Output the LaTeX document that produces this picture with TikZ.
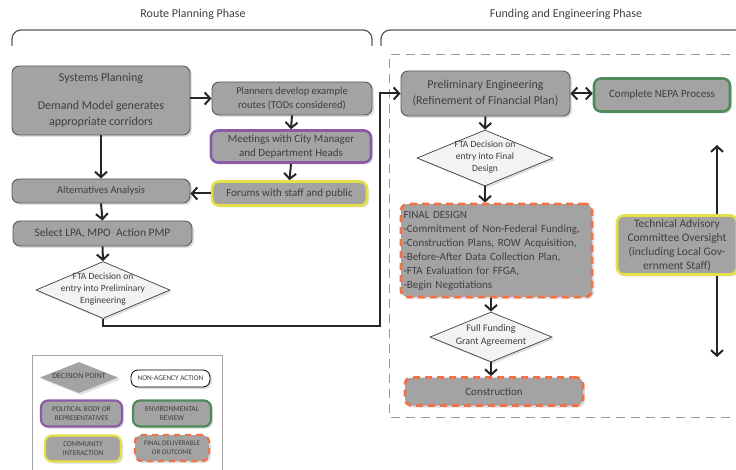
\documentclass[tikz,border=0pt]{standalone}
\usepackage{fontspec}
\setmainfont{Carlito}
\usetikzlibrary{shapes.geometric,arrows.meta,shadows}
\definecolor{boxgray}{HTML}{A3A3A3}
\definecolor{boxedge}{HTML}{5A5A5A}
\definecolor{txt}{HTML}{3F3F3F}
\definecolor{purp}{HTML}{8A5AA8}
\definecolor{grn}{HTML}{4E8A5A}
\definecolor{yel}{HTML}{E4E04A}
\definecolor{orng}{HTML}{EE734C}
\definecolor{dia}{HTML}{F3F3F3}
\newcommand{\dtext}[1]{\makebox[0pt]{\raisebox{-0.25em}{\smash{\begin{tabular}{@{}c@{}}#1\end{tabular}}}}}
\tikzset{
  shad/.style={drop shadow={opacity=0.25,shadow xshift=2pt,shadow yshift=-2pt}},
  gbox/.style={shad,draw=boxedge,line width=0.9pt,fill=boxgray,rounded corners=7pt,
    text=txt,align=center,inner sep=0pt},
  polbox/.style={gbox,draw=purp,line width=2.6pt},
  envbox/.style={gbox,draw=grn,line width=2.6pt},
  combox/.style={gbox,draw=yel,line width=2.6pt},
  finbox/.style={gbox,draw=orng,line width=2.8pt,dash pattern=on 7pt off 5pt},
  decis/.style={shad,diamond,draw=txt,line width=0.7pt,fill=dia,text=txt,inner sep=0pt},
  tip/.tip={Straight Barb[length=5.5pt,width=12pt,line width=2pt]},
  arr/.style={draw=black!85,line width=2pt,-tip},
  darr/.style={draw=black!85,line width=2pt,tip-tip},
  lbl/.style={text=txt,inner sep=0pt},
}
\begin{document}
\begin{tikzpicture}[x=1pt,y=-1pt]
\useasboundingbox (0,0) rectangle (736,470);
\clip (0,0) rectangle (736,470);
% phase labels and brackets
\node[lbl,font=\fontsize{12}{14}\selectfont] (rpp) at (193,14) {Route Planning Phase};
\node[lbl,font=\fontsize{12}{14}\selectfont] (fep) at (566,14) {Funding and Engineering Phase};
\draw[draw=boxedge,line width=1.3pt,rounded corners=9pt] (12,46) -- (12,30) -- (372,30) -- (372,46);
\draw[draw=boxedge,line width=1.3pt,rounded corners=9pt] (381,46) -- (381,30) -- (745,30);
% dashed frame
\draw[draw=gray!80,line width=1pt,dash pattern=on 9pt off 6pt] (745,55) -- (389,55) -- (389,417) -- (745,417);

% left column
\node[gbox,minimum width=178pt,minimum height=69pt,font=\fontsize{12}{16}\selectfont] (sp) at (101,100.5)
  {Systems Planning\\[12pt]Demand Model generates\\appropriate corridors};
\node[gbox,minimum width=160pt,minimum height=33pt,font=\fontsize{10.5}{13.5}\selectfont] (pd) at (292,98.5)
  {Planners develop example\\routes (TODs considered)};
\node[polbox,minimum width=160pt,minimum height=32pt,font=\fontsize{11}{14}\selectfont] (mt) at (291,146.5)
  {Meetings with City Manager\\and Department Heads};
\node[combox,minimum width=155pt,minimum height=24pt,font=\fontsize{11}{13}\selectfont] (fo) at (289.5,193.5)
  {Forums with staff and public};
\node[gbox,minimum width=178pt,minimum height=24pt,font=\fontsize{10.5}{12}\selectfont] (aa) at (101,191)
  {Alternatives Analysis};
\node[gbox,minimum width=179pt,minimum height=25pt,font=\fontsize{11.5}{13}\selectfont] (sl) at (102.5,233.5)
  {Select LPA, MPO\ \ Action PMP};
\node[decis,minimum width=134pt,minimum height=57pt,font=\fontsize{9.5}{12}\selectfont] (d1) at (103,290)
  {\dtext{FTA Decision on\\entry into Preliminary\\Engineering}};

% right column
\node[gbox,minimum width=169pt,minimum height=45pt,font=\fontsize{12}{16}\selectfont] (pe) at (485.5,93.5)
  {Preliminary Engineering\\(Refinement of Financial Plan)};
\node[envbox,minimum width=136pt,minimum height=33pt,font=\fontsize{11}{13}\selectfont] (ne) at (662,95)
  {Complete NEPA Process};
\node[decis,minimum width=136pt,minimum height=56pt,font=\fontsize{9.5}{12}\selectfont] (d2) at (485,158)
  {\dtext{FTA Decision on\\entry into Final\\Design}};
\node[finbox,minimum width=191pt,minimum height=93pt,align=left,text width=186pt,font=\fontsize{11}{14}\selectfont] (fd) at (496.5,250.5)
  {FINAL DESIGN\\-Commitment of Non-Federal Funding,\\-Construction Plans, ROW Acquisition,\\-Before-After Data Collection Plan,\\-FTA Evaluation for FFGA,\\-Begin Negotiations};
\node[decis,minimum width=122pt,minimum height=50pt,font=\fontsize{10}{13}\selectfont] (d3) at (491,337)
  {\dtext{Full Funding\\Grant Agreement}};
\node[finbox,minimum width=178pt,minimum height=28pt,font=\fontsize{11}{13}\selectfont] (co) at (494,391.5)
  {Construction};
\node[combox,minimum width=120pt,minimum height=59pt,font=\fontsize{11.5}{14}\selectfont] (tac) at (677,245)
  {Technical Advisory\\Committee Oversight\\(including Local Gov-\\ernment Staff)};
\coordinate (tacTop) at (717,145);
\coordinate (tacBot) at (717,357);

% connectors
\draw[arr] (sp.east |- pd.west) -- (pd.west);
\draw[arr] (pd.south) -- (mt.north);
\draw[arr] (mt.south) -- (fo.north);
\draw[arr] (fo.west) -- (aa.east |- fo.west);
\draw[arr] (sp.south) -- (aa.north);
\draw[arr] (aa.south) -- (sl.north);
\draw[arr] (sl.south) -- (d1.north);
\coordinate (turn) at (380,326);
\draw[arr] (d1.south) |- (turn) |- (pe.west);
\draw[darr] (pe.east) -- (ne.west |- pe.east);
\draw[arr] (pe.south) -- (d2.north);
\draw[arr] (d2.south) -- (d2.south |- fd.north);
\draw[arr] (fd.south -| d3.north) -- (d3.north);
\draw[arr] (d3.south) -- (d3.south |- co.north);
\draw[arr] (tac.north -| tacTop) -- (tacTop);
\draw[arr] (tac.south -| tacBot) -- (tacBot);

% legend
\draw[draw=gray!70,line width=0.8pt] (32,355) rectangle (222,472);
\node[diamond,fill=boxgray,minimum width=78pt,minimum height=31pt,inner sep=0pt,text=txt,font=\fontsize{8}{9}\selectfont,shad] (ld) at (79,377.5) {\dtext{DECISION POINT}};
\node[shad,draw=black,line width=0.8pt,fill=white,rounded corners=7pt,minimum width=79pt,minimum height=17pt,inner sep=0pt,text=txt,font=\fontsize{7.3}{8}\selectfont] (ln) at (170.5,378.5) {NON-AGENCY ACTION};
\node[polbox,line width=2.2pt,minimum width=81pt,minimum height=26pt,font=\fontsize{7.3}{9}\selectfont] (lp) at (81.5,413.5) {POLITICAL BODY OR\\REPRESENTATIVES};
\node[envbox,line width=2.2pt,minimum width=78pt,minimum height=26pt,font=\fontsize{7.5}{9}\selectfont] (le) at (172,413.5) {ENVIRONMENTAL\\REVIEW};
\node[combox,line width=2.2pt,minimum width=76pt,minimum height=26pt,font=\fontsize{7.3}{9}\selectfont] (lc) at (83,448.5) {COMMUNITY\\INTERACTION};
\node[finbox,line width=2.4pt,dash pattern=on 6pt off 5pt,minimum width=74pt,minimum height=26pt,font=\fontsize{7}{9}\selectfont] (lf) at (172,448) {FINAL DELIVERABLE\\OR OUTCOME};
\end{tikzpicture}
\end{document}
